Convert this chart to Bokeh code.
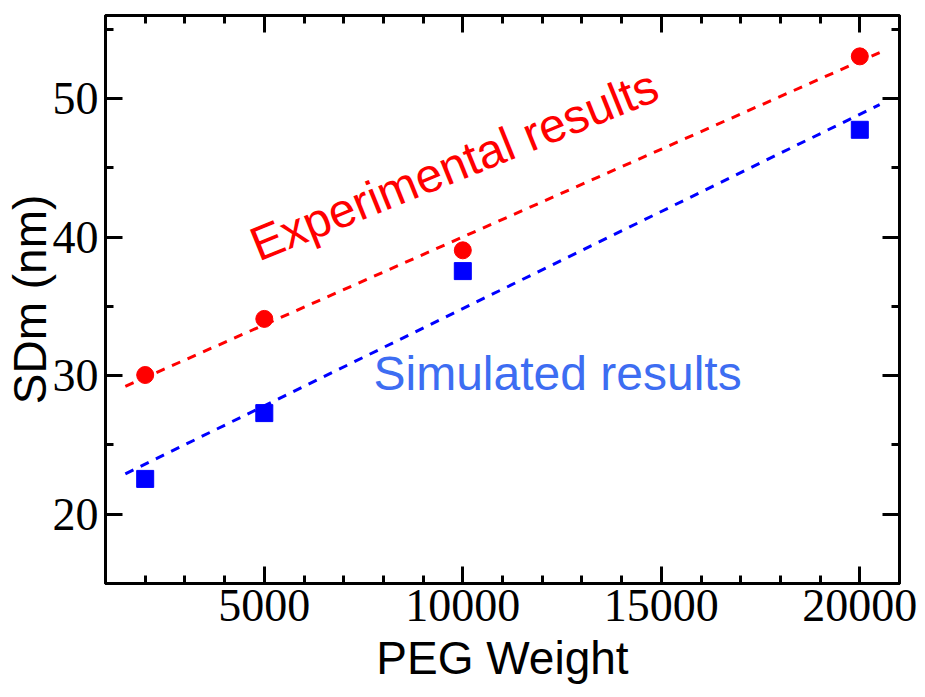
import numpy as np
from bokeh.plotting import figure
from bokeh.models import LinearAxis, FixedTicker, Label
from bokeh.embed import file_html
from bokeh.resources import INLINE

# PEG molecular weight vs. SDm
peg_weight = [2000, 5000, 10000, 20000]
sdm_experimental = [30.05, 34.1, 39.05, 53.05]
sdm_simulated = [22.55, 27.3, 37.55, 47.75]

# extent of the linear trend lines
fit_x = [1500, 20500]

x_major = [5000, 10000, 15000, 20000]
x_minor = [v for v in range(1000, 21001, 1000) if v not in x_major]
x_labels = ["5000", "10000", "15000", "20000"]
y_major = [20, 30, 40, 50]
y_minor = [15, 25, 35, 45, 55]
y_labels = ["20", "30", "40", "50"]

RED = "#ff0000"
BLUE = "#0000ff"
LIGHT_BLUE = "#3d6df2"
SANS = "Liberation Sans"
SERIF = "Liberation Serif"

p = figure(width=925, height=697, x_range=(1000, 21000), y_range=(15, 56),
           output_backend="svg", toolbar_location=None,
           min_border_left=104, min_border_right=26,
           min_border_top=15, min_border_bottom=114)
p.grid.visible = False
p.outline_line_color = "black"
p.outline_line_width = 3
p.background_fill_color = "white"
p.border_fill_color = "white"

xt = FixedTicker(ticks=x_major, minor_ticks=x_minor)
yt = FixedTicker(ticks=y_major, minor_ticks=y_minor)


def style_axis(ax, show_labels):
    ax.axis_line_color = "black"
    ax.axis_line_width = 3
    ax.major_tick_line_width = 3
    ax.minor_tick_line_width = 3
    ax.major_tick_in = 17
    ax.major_tick_out = 0
    ax.minor_tick_in = 8
    ax.minor_tick_out = 0
    if show_labels:
        ax.major_label_text_font = SERIF
        ax.major_label_text_font_size = "46px"
        ax.major_label_text_color = "black"
        ax.axis_label_text_font = SANS
        ax.axis_label_text_font_size = "46px"
        ax.axis_label_text_font_style = "normal"
        ax.axis_label_text_color = "black"
    else:
        ax.major_label_text_font_size = "10px"
        ax.major_label_standoff = 0


xa = p.xaxis[0]
xa.ticker = xt
xa.major_label_overrides = dict(zip(x_major, x_labels))
xa.axis_label = "PEG Weight"
style_axis(xa, True)
xa.major_label_standoff = 6
xa.axis_label_standoff = 8

ya = p.yaxis[0]
ya.ticker = yt
ya.major_label_overrides = dict(zip(y_major, y_labels))
ya.axis_label = "SDm (nm)"
style_axis(ya, True)
ya.major_label_standoff = 7
ya.axis_label_standoff = -6

# frame ticks on the top and right sides, without numbers
top = LinearAxis(ticker=xt)
style_axis(top, False)
top.major_label_overrides = {v: "" for v in x_major}
p.add_layout(top, "above")
right = LinearAxis(ticker=yt)
style_axis(right, False)
right.major_label_overrides = {v: "" for v in y_major}
p.add_layout(right, "right")

# linear trends
red_fit = np.polyfit(peg_weight, sdm_experimental, 1)
blue_fit = np.polyfit(peg_weight, sdm_simulated, 1)
p.line(fit_x, np.polyval(red_fit, fit_x), line_color=RED, line_width=3, line_dash="9 8")
p.line(fit_x, np.polyval(blue_fit, fit_x), line_color=BLUE, line_width=3, line_dash="9 8")

p.scatter(peg_weight, sdm_experimental, marker="circle", size=17,
          fill_color=RED, line_color=RED)
p.scatter(peg_weight, sdm_simulated, marker="square", size=17,
          fill_color=BLUE, line_color=BLUE)

p.add_layout(Label(x=9780, y=45.2, text="Experimental results", angle=22, angle_units="deg",
                   text_align="center", text_baseline="middle", text_font=SANS,
                   text_font_size="48px", text_color=RED))
p.add_layout(Label(x=7750, y=30.14, text="Simulated results",
                   text_align="left", text_baseline="alphabetic", text_font=SANS,
                   text_font_size="48px", text_color=LIGHT_BLUE))

open("out.html", "w").write(file_html(p, INLINE))
